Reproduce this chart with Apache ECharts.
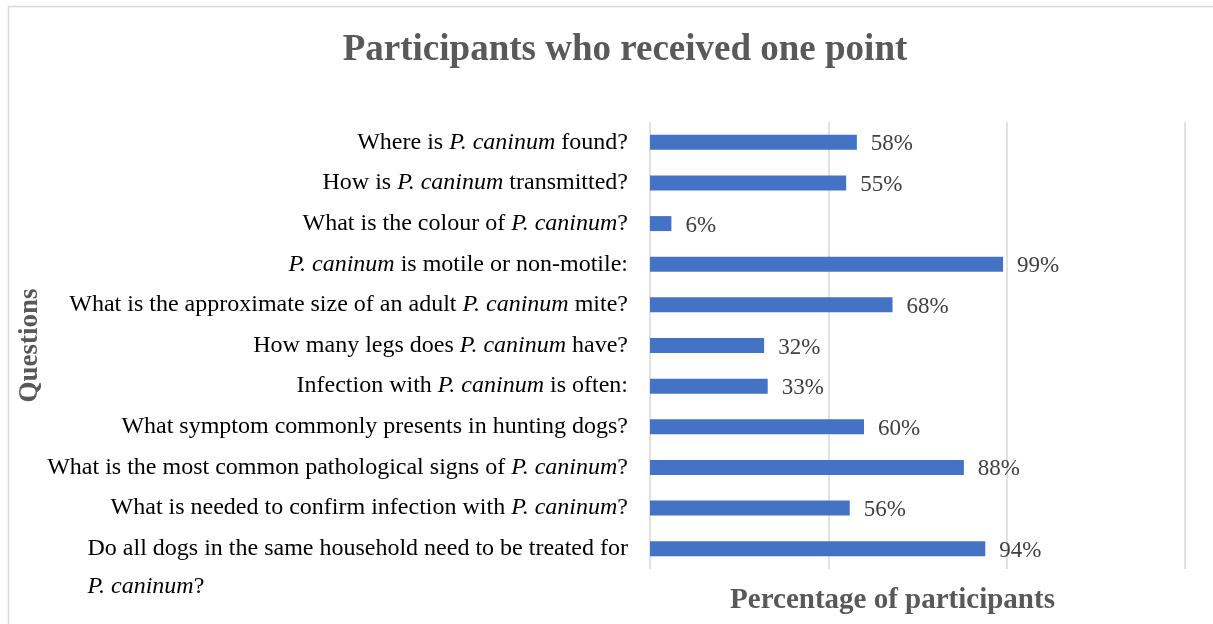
<!DOCTYPE html>
<html>
<head>
<meta charset="utf-8">
<script src="https://cdn.jsdelivr.net/npm/echarts@6/dist/echarts.min.js"></script>
<style>html,body{margin:0;padding:0;background:#fff;}#c{width:1213px;height:624px;}</style>
</head>
<body>
<div id="c"></div>
<script>
const titleText = 'Participants who received one point';
const xAxisName = 'Percentage of participants';
const yAxisName = 'Questions';
const categories = [
  'Where is P. caninum found?',
  'How is P. caninum transmitted?',
  'What is the colour of P. caninum?',
  'P. caninum is motile or non-motile:',
  'What is the approximate size of an adult P. caninum mite?',
  'How many legs does P. caninum have?',
  'Infection with P. caninum is often:',
  'What symptom commonly presents in hunting dogs?',
  'What is the most common pathological signs of P. caninum?',
  'What is needed to confirm infection with P. caninum?',
  'Do all dogs in the same household need to be treated for\nP. caninum?'
];
const values = [58, 55, 6, 99, 68, 32, 33, 60, 88, 56, 94];
const xTicks = [0, 50, 100, 150];

const serif = '"Liberation Serif", "Times New Roman", serif';
const SPECIES = 'P. caninum';

function richLabel(str) {
  return str.split('\n').map(line => {
    const parts = line.split(SPECIES);
    let out = '';
    parts.forEach((p, i) => {
      if (p.length) out += '{n|' + p + '}';
      if (i < parts.length - 1) out += '{i|' + SPECIES + '}';
    });
    return out;
  }).join('\n');
}

const catData = categories.map(c => {
  if (c.indexOf('\n') >= 0) {
    return { value: c, textStyle: { padding: [38, 0, 0, 0] } };
  }
  return c;
});

const chart = echarts.init(document.getElementById('c'), null, { renderer: 'canvas' });
chart.setOption({
  backgroundColor: '#ffffff',
  animation: false,
  title: {
    text: titleText,
    left: 620,
    textAlign: 'center',
    top: 27,
    textStyle: { fontFamily: serif, fontWeight: 'bold', fontSize: 37, color: '#595959' }
  },
  graphic: [{
    type: 'rect',
    shape: { x: 8.5, y: 6.5, width: 1250, height: 700 },
    style: { fill: 'none', stroke: '#d9d9d9', lineWidth: 1.5 },
    silent: true
  }],
  grid: { left: 650, right: 28, top: 122, bottom: 55, outerBoundsMode: 'none', containLabel: false },
  xAxis: {
    type: 'value',
    min: xTicks[0],
    max: xTicks[xTicks.length - 1],
    interval: xTicks[1] - xTicks[0],
    axisLabel: { show: false },
    axisLine: { show: false },
    axisTick: { show: false },
    splitLine: { show: true, lineStyle: { color: '#d9d9d9', width: 1.5 } },
    name: xAxisName,
    nameLocation: 'middle',
    nameGap: 17,
    nameTextStyle: { fontFamily: serif, fontWeight: 'bold', fontSize: 29, color: '#595959', padding: [0, 50, 0, 0] }
  },
  yAxis: {
    type: 'category',
    inverse: true,
    data: catData,
    axisLine: { show: false },
    axisTick: { show: false },
    axisLabel: {
      interval: 0,
      margin: 22,
      showMinLabel: true,
      showMaxLabel: true,
      hideOverlap: false,
      formatter: v => richLabel(v),
      rich: {
        n: { fontFamily: serif, fontSize: 24, color: '#000000', lineHeight: 38, align: 'left' },
        i: { fontFamily: serif, fontSize: 24, color: '#000000', fontStyle: 'italic', lineHeight: 38, align: 'left' }
      }
    },
    name: yAxisName,
    nameLocation: 'middle',
    nameRotate: 90,
    nameGap: 594,
    nameTextStyle: { fontFamily: serif, fontWeight: 'bold', fontSize: 27, color: '#595959' }
  },
  series: [{
    type: 'bar',
    data: values,
    barWidth: 15,
    itemStyle: { color: '#4472C4' },
    label: {
      show: true,
      position: 'right',
      distance: 14,
      formatter: p => p.value + '%',
      fontFamily: serif,
      fontSize: 23,
      color: '#404040',
      offset: [0, 2]
    }
  }]
});
</script>
</body>
</html>
